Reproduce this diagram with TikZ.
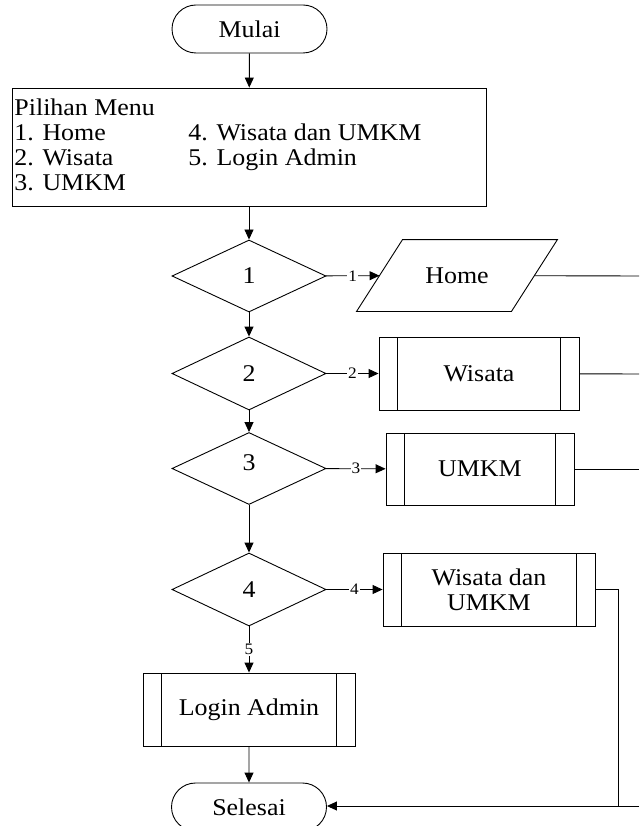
\documentclass[tikz,border=0pt]{standalone}
\usepackage{fontspec}
\setmainfont[FakeStretch=1.08]{Liberation Serif}
\usetikzlibrary{shapes.geometric,shapes.misc,arrows.meta}

\begin{document}
\begin{tikzpicture}[x=1pt,y=-1pt,
  line width=0.9pt,
  font=\fontsize{24}{25}\selectfont,
  terminal/.style={draw, rounded rectangle, minimum width=155pt, minimum height=48pt, inner sep=0pt},
  decision/.style={draw, diamond, minimum width=154pt, minimum height=72pt, inner sep=0pt},
  iobox/.style={rectangle, minimum width=154pt, minimum height=71pt, inner sep=0pt},
  predef/.style={draw, rectangle, minimum height=73pt, inner sep=0pt, align=center,
    path picture={
      \draw ([xshift=18.5pt]path picture bounding box.north west) -- ([xshift=18.5pt]path picture bounding box.south west);
      \draw ([xshift=-18.5pt]path picture bounding box.north east) -- ([xshift=-18.5pt]path picture bounding box.south east);}},
  menubox/.style={draw, rectangle, minimum width=474pt, minimum height=118pt, inner sep=0pt},
  flow/.style={-{Triangle[length=10pt,width=9pt]}},
  tag/.style={fill=white, inner sep=1pt, font=\fontsize{16}{16}\selectfont}
]
\useasboundingbox (0,0) rectangle (639,826);
\clip (0,0) rectangle (639,826);

% terminals
\node[terminal] (mulai) at (249.5,29) {Mulai};
\node[terminal] (selesai) at (249,807) {Selesai};

% menu
\node[menubox] (menu) at (249,147) {};
\node[anchor=base west, inner sep=0pt] (menutext) at (14,116)
  {\begin{tabular}[t]{@{}p{174pt}@{}l@{}}
    \multicolumn{2}{@{}l@{}}{Pilihan Menu}\\
    1. Home & 4. Wisata dan UMKM\\
    2. Wisata & 5. Login Admin\\
    3. UMKM &
  \end{tabular}};

% decisions
\node[decision] (d1) at (249,276) {1};
\node[decision, minimum height=73pt] (d2) at (249,373.5) {2};
\node[decision] (d3) at (249,468.5) {\raisebox{11pt}{3}};
\node[decision, minimum height=73pt] (d4) at (249,589.5) {4};

% data (parallelogram) and processes
\node[iobox] (home) at (457,275.5) {Home};
\draw ([xshift=23pt]home.north west) -- ([xshift=23pt]home.north east)
  -- ([xshift=-23pt]home.south east) -- ([xshift=-23pt]home.south west) -- cycle;
\node[predef, minimum width=200pt] (wisata) at (479,373.5) {Wisata};
\node[predef, minimum width=188pt, minimum height=72pt] (umkm) at (480,469) {UMKM};
\node[predef, minimum width=212pt] (wdu) at (489,589.5) {Wisata dan\\UMKM};
\node[predef, minimum width=212pt] (login) at (249,709.5) {Login Admin};

% exits toward the right margin
\coordinate (homeout) at (639,276);
\coordinate (wisataout) at (639,374);
\coordinate (umkmout) at (639,469);
\coordinate (wduturn) at (618,589);
\coordinate (wdudown) at (618,806);
\coordinate (endin) at (639,806);

% main flow
\draw[flow] (mulai) -- (menu);
\draw[flow] (menu) -- (d1);
\draw[flow] (d1) -- (d2);
\draw[flow] (d2) -- (d3);
\draw[flow] (d3) -- (d4);
\draw[flow] (d4) -- node[tag] {5} (login);
\draw[flow] (login) -- (selesai);

% branches
\draw[flow] (d1) -- node[tag] {1} (home);
\draw[flow] (d2) -- node[tag] {2} (wisata);
\draw[flow] (d3) -- node[tag] {3} (umkm);
\draw[flow] (d4) -- node[tag] {4} (wdu);

\draw (home) -- (homeout);
\draw (wisata) -- (wisataout);
\draw (umkm) -- (umkmout);
\draw (wdu.east |- wduturn) -- (wduturn) -- (wdudown);
\draw[flow] (endin) -- (selesai.east |- endin);
\end{tikzpicture}
\end{document}
